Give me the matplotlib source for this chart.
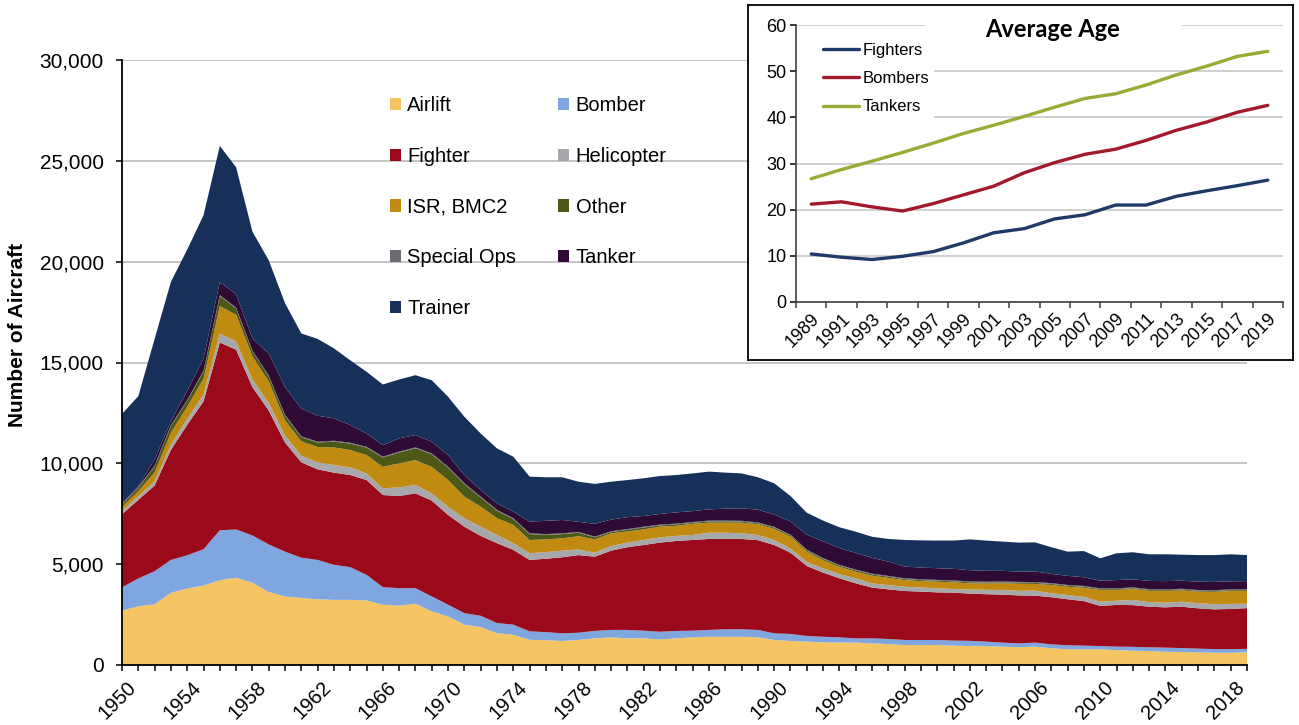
import matplotlib
matplotlib.use('Agg')
import matplotlib.pyplot as plt
from matplotlib.patches import Patch, Rectangle
from matplotlib.lines import Line2D
from matplotlib.ticker import MultipleLocator, FixedLocator, FuncFormatter
import matplotlib.transforms as mtransforms
import numpy as np

plt.rcParams['font.family'] = ['Liberation Sans', 'DejaVu Sans']

# ---------------- data: main stacked area (number of aircraft) ----------------
years = list(range(1950, 2020))

airlift = [2700, 2910, 3010, 3580, 3790, 3940, 4200, 4330, 4080, 3620,
           3400, 3320, 3260, 3230, 3230, 3200, 2990, 2940, 3040, 2660,
           2410, 2000, 1880, 1580, 1500, 1250, 1230, 1190, 1240, 1320,
           1370, 1320, 1320, 1270, 1320, 1370, 1400, 1400, 1400, 1370,
           1240, 1190, 1160, 1120, 1120, 1110, 1070, 1040, 990, 990,
           990, 960, 940, 930, 910, 880, 910, 830, 780, 780,
           780, 740, 710, 690, 660, 640, 630, 610, 610, 630]
bomber = [1150, 1380, 1640, 1630, 1650, 1800, 2480, 2390, 2340, 2360,
          2220, 2000, 1950, 1740, 1620, 1270, 870, 870, 770, 740,
          580, 570, 560, 500, 500, 420, 400, 380, 360, 370,
          370, 420, 380, 380, 370, 330, 340, 370, 370, 370,
          330, 350, 280, 280, 250, 210, 250, 250, 250, 250,
          250, 250, 260, 230, 200, 190, 200, 190, 200, 180,
          160, 170, 190, 190, 200, 200, 180, 180, 180, 170]
fighter = [3630, 3900, 4250, 5460, 6470, 7330, 9310, 8920, 7360, 6640,
           5410, 4730, 4490, 4570, 4570, 4700, 4570, 4570, 4700, 4750,
           4450, 4290, 3960, 3960, 3710, 3540, 3640, 3770, 3850, 3680,
           3930, 4100, 4250, 4420, 4460, 4500, 4510, 4480, 4480, 4450,
           4380, 4030, 3470, 3180, 2930, 2730, 2520, 2460, 2430, 2400,
           2360, 2380, 2340, 2350, 2380, 2380, 2330, 2340, 2280, 2210,
           1990, 2070, 2070, 2010, 2000, 2050, 2000, 1970, 1990, 2020]
helicopter = [150, 180, 200, 250, 300, 330, 450, 400, 380, 380,
              350, 330, 350, 380, 380, 330, 330, 430, 420, 360,
              410, 420, 460, 410, 330, 330, 330, 330, 280, 200,
              230, 230, 250, 260, 250, 250, 310, 310, 280, 260,
              250, 210, 210, 210, 210, 250, 210, 210, 210, 210,
              200, 180, 200, 220, 230, 230, 250, 200, 210, 210,
              210, 210, 250, 230, 230, 250, 250, 260, 250, 220]
isr = [200, 250, 450, 600, 600, 800, 1360, 1330, 1150, 1060,
       750, 710, 760, 870, 860, 910, 1070, 1190, 1230, 1320,
       1320, 1070, 990, 830, 910, 660, 630, 610, 660, 660,
       630, 550, 530, 530, 500, 550, 500, 500, 530, 530,
       550, 580, 500, 410, 360, 330, 380, 360, 330, 310,
       330, 330, 310, 310, 330, 350, 330, 410, 410, 450,
       580, 530, 550, 560, 580, 560, 580, 610, 640, 640]
other = [120, 160, 300, 330, 290, 350, 500, 310, 240, 250,
         230, 210, 220, 290, 320, 370, 460, 540, 590, 620,
         620, 620, 460, 370, 290, 290, 220, 210, 170, 100,
         60, 80, 90, 60, 70, 50, 60, 60, 50, 50,
         60, 60, 60, 60, 60, 60, 60, 60, 50, 50,
         50, 50, 50, 50, 50, 50, 50, 50, 50, 50,
         40, 40, 40, 40, 40, 40, 40, 40, 40, 40]
special_ops = [40] * 70
tanker = [40, 50, 300, 200, 450, 600, 650, 660, 600, 1100,
          1380, 1370, 1290, 1110, 880, 660, 570, 660, 610, 580,
          580, 410, 330, 330, 330, 580, 660, 660, 500, 630,
          580, 590, 530, 530, 560, 540, 560, 590, 620, 630,
          610, 660, 740, 830, 830, 830, 780, 710, 580, 580,
          580, 580, 560, 540, 530, 510, 530, 460, 450, 430,
          380, 410, 400, 410, 410, 400, 410, 410, 400, 400]
trainer = [4420, 4460, 5980, 6910, 7010, 7110, 6750, 6300, 5300, 4620,
           4160, 3730, 3810, 3470, 3210, 3060, 3010, 2920, 2970, 3050,
           2890, 2890, 2800, 2720, 2720, 2230, 2160, 2120, 1990, 1980,
           1880, 1840, 1870, 1880, 1850, 1870, 1870, 1790, 1730, 1610,
           1550, 1260, 1090, 1030, 1030, 1050, 1050, 1120, 1320, 1350,
           1370, 1400, 1530, 1500, 1450, 1440, 1440, 1320, 1200, 1300,
           1110, 1330, 1340, 1320, 1330, 1290, 1320, 1330, 1340, 1290]

series_names = ['Airlift', 'Bomber', 'Fighter', 'Helicopter', 'ISR, BMC2',
                'Other', 'Special Ops', 'Tanker', 'Trainer']
series_colors = ['#F5C563', '#7FA6DE', '#9B0A1B', '#A6A8AB', '#C18A10',
                 '#4B5818', '#6A6D71', '#2E0B35', '#17305A']

# ---------------- data: inset (average age) ----------------
age_years = ['1989', '1991', '1993', '1995', '1997', '1999', '2001', '2003',
             '2005', '2007', '2009', '2011', '2013', '2015', '2017', '2019']
age_fighters = [10.4, 9.7, 9.2, 9.9, 10.9, 12.8, 15.0, 15.9,
                18.0, 18.9, 21.0, 21.0, 22.9, 24.1, 25.2, 26.4]
age_bombers = [21.2, 21.7, 20.6, 19.7, 21.3, 23.2, 25.1, 28.0,
               30.2, 32.0, 33.1, 35.0, 37.2, 39.0, 41.1, 42.6]
age_tankers = [26.7, 28.7, 30.5, 32.4, 34.4, 36.5, 38.3, 40.2,
               42.2, 44.1, 45.1, 47.0, 49.2, 51.1, 53.2, 54.3]

# ---------------- figure ----------------
W, H = 1299, 725
fig = plt.figure(figsize=(W / 100, H / 100), dpi=100)
fig.patch.set_facecolor('white')

ax = fig.add_axes([122 / W, 1 - 665 / H, (1247 - 122) / W, (665 - 60) / H])
ax.stackplot(years, airlift, bomber, fighter, helicopter, isr, other,
             special_ops, tanker, trainer, colors=series_colors,
             linewidth=0, antialiased=True)
ax.set_xlim(1950, 2019)
ax.set_ylim(0, 30000)
ax.yaxis.set_major_locator(MultipleLocator(5000))
ax.yaxis.set_major_formatter(FuncFormatter(lambda v, p: f'{int(v):,}'))
ax.xaxis.set_major_locator(FixedLocator(list(range(1950, 2019, 4))))
ax.xaxis.set_minor_locator(MultipleLocator(1))
ax.grid(axis='y', color='#C0C0C0', lw=1.3)
ax.set_axisbelow(True)
for s in ['top', 'right']:
    ax.spines[s].set_visible(False)
for s in ['left', 'bottom']:
    ax.spines[s].set_color('black')
    ax.spines[s].set_linewidth(1.3)
ax.tick_params(axis='y', which='major', direction='out', length=4,
               width=1.1, pad=9, labelsize=15, colors='black')
ax.tick_params(axis='x', which='both', direction='out', length=4,
               width=1.1, colors='black')
ax.tick_params(axis='x', which='major', pad=5, labelsize=14.5)
for lab in ax.get_xticklabels():
    lab.set_rotation(45)
    lab.set_ha('center')
    lab.set_va('top')
    lab.set_transform(lab.get_transform() +
                      mtransforms.ScaledTranslation(-0.05, 0, fig.dpi_scale_trans))

fig.text(18 / W, 1 - 335 / H, 'Number of Aircraft', rotation=90,
         ha='center', va='center', fontsize=15, fontweight='bold')

# legend (row-wise order like the reference)
handles = {n: Patch(facecolor=c, edgecolor='none')
           for n, c in zip(series_names, series_colors)}
order = ['Airlift', 'Fighter', 'ISR, BMC2', 'Special Ops', 'Trainer',
         'Bomber', 'Helicopter', 'Other', 'Tanker']
ax.legend([handles[n] for n in order], order, ncol=2, frameon=False,
          loc='upper left', bbox_to_anchor=(390 / W, 1 - 96 / H),
          bbox_transform=fig.transFigure, fontsize=14.5,
          handlelength=0.55, handleheight=0.55, handletextpad=0.3,
          labelspacing=1.58, columnspacing=2.1, borderpad=0,
          borderaxespad=0)

# ---------------- inset chart ----------------
box = fig.add_axes([748 / W, 1 - 360 / H, (1293 - 748) / W, (360 - 5) / H])
box.set_xticks([])
box.set_yticks([])
box.set_facecolor('white')
for s in box.spines.values():
    s.set_color('black')
    s.set_linewidth(1.3)
box.set_zorder(5)

iax = fig.add_axes([796 / W, 1 - 302 / H, (1283 - 796) / W, (302 - 25) / H])
iax.set_zorder(6)
iax.set_facecolor('none')
xi = np.arange(len(age_years))
l1, = iax.plot(xi, age_fighters, color='#1F3A68', lw=2.4, solid_capstyle='round')
l2, = iax.plot(xi, age_bombers, color='#A3192C', lw=2.4, solid_capstyle='round')
l3, = iax.plot(xi, age_tankers, color='#9AAA36', lw=2.4, solid_capstyle='round')
iax.set_xlim(-0.5, len(age_years) - 0.5)
iax.set_ylim(0, 60)
iax.yaxis.set_major_locator(MultipleLocator(10))
iax.set_xticks(xi)
iax.set_xticklabels(age_years)
iax.xaxis.set_minor_locator(FixedLocator(np.arange(-0.5, len(age_years), 1.0)))
iax.grid(axis='y', color='#C8C8C8', lw=1.2)
iax.set_axisbelow(True)
for s in ['top', 'right']:
    iax.spines[s].set_visible(False)
for s in ['left', 'bottom']:
    iax.spines[s].set_color('#404040')
    iax.spines[s].set_linewidth(1.2)
iax.tick_params(axis='y', direction='out', length=4, width=1.1,
                labelsize=13, pad=3, colors='black')
iax.tick_params(axis='x', which='major', length=0, labelsize=13, pad=6)
iax.tick_params(axis='x', which='minor', direction='out', length=4, width=1.1,
                color='#404040')
for lab in iax.get_xticklabels():
    lab.set_rotation(45)
    lab.set_ha('right')
    lab.set_va('top')
    lab.set_rotation_mode('anchor')

# white areas behind the legend and title (hide gridlines there)
iax.add_patch(Rectangle((797 / W, 1 - 124 / H), (934 - 797) / W, (124 - 33) / H,
                        transform=fig.transFigure, facecolor='white',
                        edgecolor='none', zorder=1.5))
iax.add_patch(Rectangle((926 / W, 1 - 33 / H), (1182 - 926) / W, (33 - 12) / H,
                        transform=fig.transFigure, facecolor='white',
                        edgecolor='none', zorder=1.5))

iax.legend([l1, l2, l3], ['Fighters', 'Bombers', 'Tankers'],
           loc='upper left', bbox_to_anchor=(0.043, 0.957),
           fontsize=12, frameon=False,
           handlelength=2.2, handletextpad=0.2, labelspacing=0.8,
           borderpad=0.35, borderaxespad=0)

iax.text(0.527, 0.985, 'Average Age', transform=iax.transAxes,
         ha='center', va='center', fontsize=17, fontweight='bold',
         family=['Lato', 'DejaVu Sans'], zorder=3)

fig.savefig('out.png', dpi=100, facecolor='white')
